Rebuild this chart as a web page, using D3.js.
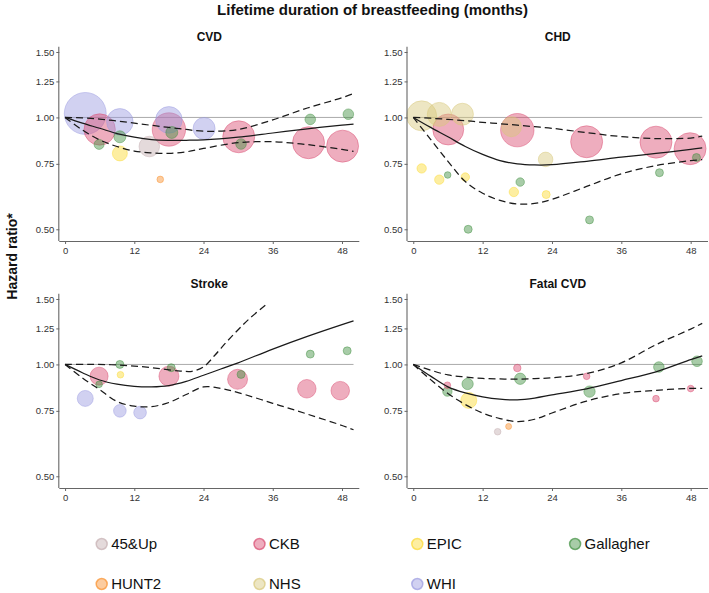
<!DOCTYPE html>
<html><head><meta charset="utf-8">
<script src="https://cdn.jsdelivr.net/npm/d3@7"></script>
<style>
html,body{margin:0;padding:0;background:#fff;}
svg{display:block;font-family:"Liberation Sans",Arial,sans-serif;}
</style></head>
<body>
<svg id="chart" width="709" height="593"></svg>
<script>
// ---------------- DATA ----------------
const studies = ["45&Up", "CKB", "EPIC", "Gallagher", "HUNT2", "NHS", "WHI"];
const studyColors = ["#c4aeb0", "#d94a6f", "#fbd92f", "#3e8e3e", "#f98e2a", "#d8c77a", "#9a9ae0"];
const panelTitles = ["CVD", "CHD", "Stroke", "Fatal CVD"];
const xTicks = [0, 12, 24, 36, 48];
const yTicks = [0.50, 0.75, 1.00, 1.25, 1.50];

// bubbles: [study, months, hazard ratio, weight]
const cvdPoints = [
  ["WHI", 3.5, 1.025, 44], ["WHI", 9.5, 0.973, 17.7], ["WHI", 18, 0.985, 17.7], ["WHI", 24.1, 0.934, 12.1],
  ["CKB", 6, 0.928, 24.6], ["CKB", 18, 0.928, 27.9], ["CKB", 30.1, 0.887, 25.6], ["CKB", 42.2, 0.855, 25.6], ["CKB", 48.1, 0.837, 25.6],
  ["45&Up", 14.6, 0.835, 10.6],
  ["Gallagher", 5.9, 0.846, 2.5], ["Gallagher", 9.5, 0.887, 3.6], ["Gallagher", 18.5, 0.911, 3.6], ["Gallagher", 30.5, 0.848, 2.8], ["Gallagher", 42.5, 0.988, 2.8], ["Gallagher", 49.1, 1.02, 2.8],
  ["EPIC", 9.5, 0.80, 5.6], ["HUNT2", 16.5, 0.681, 1.1]
];
const chdPoints = [
  ["NHS", 1.45, 1.01, 22.5], ["NHS", 4.5, 1.019, 14.4], ["NHS", 8.5, 1.02, 12.1], ["NHS", 17, 0.944, 10], ["NHS", 22.9, 0.771, 5.3],
  ["CKB", 6.05, 0.928, 24], ["CKB", 18, 0.924, 27.9], ["CKB", 30, 0.86, 25.6], ["CKB", 42, 0.858, 25.6], ["CKB", 47.9, 0.824, 25.6],
  ["EPIC", 1.45, 0.729, 2.2], ["EPIC", 4.5, 0.68, 2.2], ["EPIC", 9, 0.691, 1.8], ["EPIC", 17.4, 0.63, 2.2], ["EPIC", 23, 0.62, 1.6],
  ["Gallagher", 5.95, 0.70, 1.1], ["Gallagher", 9.5, 0.50, 1.6], ["Gallagher", 18.5, 0.67, 1.8], ["Gallagher", 30.5, 0.53, 1.6], ["Gallagher", 42.6, 0.71, 1.6], ["Gallagher", 49, 0.78, 1.6]
];
const strokePoints = [
  ["WHI", 3.5, 0.81, 6.4], ["WHI", 9.5, 0.75, 4], ["WHI", 13, 0.742, 4],
  ["CKB", 5.9, 0.93, 8.1], ["CKB", 18, 0.93, 10], ["CKB", 29.9, 0.912, 10], ["CKB", 41.9, 0.86, 8.6], ["CKB", 47.7, 0.85, 8.6],
  ["EPIC", 9.6, 0.938, 1.1],
  ["Gallagher", 5.9, 0.884, 1.1], ["Gallagher", 9.5, 1.0, 1.6], ["Gallagher", 18.4, 0.98, 1.6], ["Gallagher", 30.5, 0.94, 1.6], ["Gallagher", 42.5, 1.066, 1.6], ["Gallagher", 48.9, 1.088, 1.6]
];
const fatalPoints = [
  ["CKB", 5.9, 0.879, 1.1], ["CKB", 18, 0.978, 1.4], ["CKB", 30, 0.929, 1.1], ["CKB", 42, 0.809, 1.1], ["CKB", 48, 0.861, 1.1],
  ["Gallagher", 5.9, 0.845, 2.2], ["Gallagher", 9.4, 0.886, 3.2], ["Gallagher", 18.5, 0.915, 3.2], ["Gallagher", 30.5, 0.845, 3.2], ["Gallagher", 42.5, 0.984, 2.8], ["Gallagher", 49.1, 1.02, 2.8],
  ["EPIC", 9.6, 0.80, 6.4], ["45&Up", 14.6, 0.659, 1.1], ["HUNT2", 16.5, 0.681, 0.9]
];

// fitted curves (months, estimate, lower and upper confidence limits)
const fitMonths = [0, 3, 6, 9, 12, 15, 18, 21, 24, 30, 36, 42, 48, 50];
const cvdFit   = [1, 0.965, 0.935, 0.905, 0.885, 0.872, 0.868, 0.868, 0.870, 0.885, 0.908, 0.932, 0.953, 0.960];
const cvdLower = [1, 0.925, 0.870, 0.835, 0.812, 0.803, 0.800, 0.808, 0.825, 0.855, 0.860, 0.845, 0.820, 0.810];
const cvdUpper = [1, 0.997, 0.990, 0.978, 0.965, 0.952, 0.940, 0.928, 0.918, 0.928, 0.985, 1.060, 1.130, 1.160];

const chdFit   = [1, 0.940, 0.887, 0.835, 0.795, 0.765, 0.750, 0.745, 0.746, 0.762, 0.782, 0.800, 0.820, 0.828];
const chdLower = [1, 0.873, 0.762, 0.672, 0.625, 0.598, 0.585, 0.587, 0.602, 0.652, 0.705, 0.742, 0.765, 0.770];
const chdUpper = [1, 0.995, 0.988, 0.980, 0.970, 0.962, 0.953, 0.944, 0.935, 0.910, 0.888, 0.877, 0.880, 0.890];

const strokeMonths = [0, 3, 6, 9, 12, 15, 18, 21, 24, 27, 30, 36, 42, 48, 50];
const strokeFit    = [1, 0.950, 0.908, 0.885, 0.873, 0.870, 0.877, 0.900, 0.935, 0.972, 1.010, 1.100, 1.190, 1.280, 1.310];
const strokeLower  = [1, 0.920, 0.855, 0.795, 0.772, 0.770, 0.790, 0.830, 0.870, 0.862, 0.840, 0.786, 0.735, 0.685, 0.667];
const strokeUpperMonths = [0, 4, 8, 12, 16, 20, 22, 24, 26, 28, 30, 32, 35];
const strokeUpper  = [1, 1.0, 0.998, 0.990, 0.976, 0.960, 0.958, 0.985, 1.060, 1.150, 1.240, 1.330, 1.455];

const fatalFit   = [1, 0.930, 0.870, 0.838, 0.818, 0.806, 0.803, 0.812, 0.828, 0.860, 0.905, 0.955, 1.030, 1.055];
const fatalLower = [1, 0.910, 0.835, 0.780, 0.740, 0.715, 0.702, 0.712, 0.740, 0.797, 0.835, 0.852, 0.862, 0.862];
const fatalUpper = [1, 0.965, 0.937, 0.925, 0.917, 0.914, 0.913, 0.916, 0.921, 0.945, 1.010, 1.130, 1.245, 1.290];

// ---------------- BUILD ----------------
const panelsData = [
  {title: panelTitles[0], points: cvdPoints,
   fit: [fitMonths, cvdFit], lower: [fitMonths, cvdLower], upper: [fitMonths, cvdUpper]},
  {title: panelTitles[1], points: chdPoints,
   fit: [fitMonths, chdFit], lower: [fitMonths, chdLower], upper: [fitMonths, chdUpper]},
  {title: panelTitles[2], points: strokePoints,
   fit: [strokeMonths, strokeFit], lower: [strokeMonths, strokeLower], upper: [strokeUpperMonths, strokeUpper]},
  {title: panelTitles[3], points: fatalPoints,
   fit: [fitMonths, fatalFit], lower: [fitMonths, fatalLower], upper: [fitMonths, fatalUpper]}
];

// layout
const layout = [
  {x0: 59.3, x1: 359.3, yTop: 46.7, yBot: 241},
  {x0: 407.5, x1: 708, yTop: 46.7, yBot: 241},
  {x0: 59.3, x1: 359.3, yTop: 293.7, yBot: 488},
  {x0: 407.5, x1: 708, yTop: 293.7, yBot: 488}
];

const colorOf = d3.scaleOrdinal().domain(studies).range(studyColors);
const rScale = d3.scaleSqrt().domain([0, 100]).range([0, 31.6]);

const svg = d3.select("#chart");

svg.append("text").attr("x", 372.5).attr("y", 15).attr("text-anchor", "middle")
  .attr("font-size", 15).attr("font-weight", "bold").attr("fill", "#111")
  .text("Lifetime duration of breastfeeding (months)");

svg.append("text").attr("transform", "translate(16.5,256.5) rotate(-90)")
  .attr("text-anchor", "middle").attr("font-size", 14).attr("font-weight", "bold").attr("fill", "#111")
  .text("Hazard ratio*");

panelsData.forEach((p, i) => {
  const L = layout[i];
  const x = d3.scaleLinear().domain([-1, 51]).range([L.x0, L.x1]);
  const y = d3.scaleLog().domain([0.465, 1.55]).range([L.yBot, L.yTop]);
  const g = svg.append("g");

  g.append("text").attr("x", (L.x0 + L.x1) / 2).attr("y", L.yTop - 5.5)
    .attr("text-anchor", "middle").attr("font-size", 12).attr("font-weight", "bold").attr("fill", "#111")
    .text(p.title);

  // reference line
  g.append("line").attr("x1", x(0)).attr("x2", x(50)).attr("y1", y(1)).attr("y2", y(1))
    .attr("stroke", "#aaa").attr("stroke-width", 1);

  // bubbles
  const pts = p.points.slice().sort((a, b) => b[3] - a[3]);
  g.selectAll("circle.b").data(pts).enter().append("circle")
    .attr("class", "b")
    .attr("cx", d => x(d[1])).attr("cy", d => y(d[2])).attr("r", d => rScale(d[3]))
    .attr("fill", d => colorOf(d[0])).attr("fill-opacity", 0.45)
    .attr("stroke", d => colorOf(d[0])).attr("stroke-opacity", 0.45).attr("stroke-width", 1);

  // axes
  const xAxis = d3.axisBottom(x).tickValues(xTicks).tickSize(3).tickPadding(3).tickFormat(d3.format("d"));
  const yAxis = d3.axisLeft(y).tickValues(yTicks).tickSize(3).tickPadding(2).tickFormat(d3.format(".2f"));
  const gx = g.append("g").attr("transform", `translate(0,${L.yBot})`).call(xAxis);
  const gy = g.append("g").attr("transform", `translate(${L.x0},0)`).call(yAxis);
  [gx, gy].forEach(a => {
    a.select(".domain").attr("stroke", "#666").attr("stroke-width", 1.1);
    a.selectAll(".tick line").attr("stroke", "#666");
    a.selectAll(".tick text").attr("fill", "#333").attr("font-size", 9.5)
      .attr("font-family", "'Liberation Sans',Arial,sans-serif");
  });
  gx.select(".domain").attr("d", `M${L.x0},0.5H${L.x1}`);
  gy.select(".domain").attr("d", `M-0.5,${L.yBot}V${L.yTop}`);

  // curves
  const line = d3.line().x(d => x(d[0])).y(d => y(d[1])).curve(d3.curveCatmullRom.alpha(0.5));
  const toPairs = arr => arr[0].map((m, k) => [m, arr[1][k]]);
  [["lower", "7,4"], ["upper", "7,4"], ["fit", null]].forEach(([key, dash]) => {
    const path = g.append("path").datum(toPairs(p[key])).attr("d", line)
      .attr("fill", "none").attr("stroke", "#1a1a1a").attr("stroke-width", 1.25);
    if (dash) path.attr("stroke-dasharray", dash);
  });
});

// legend
const legX = [101.7, 259.5, 417.3, 575.1];
const legY = [544, 584];
const leg = svg.append("g");
studies.forEach((s, i) => {
  const cx = legX[i % 4], cy = legY[Math.floor(i / 4)];
  leg.append("circle").attr("cx", cx).attr("cy", cy).attr("r", 5.5)
    .attr("fill", colorOf(s)).attr("fill-opacity", 0.45)
    .attr("stroke", colorOf(s)).attr("stroke-opacity", 0.7).attr("stroke-width", 1.5);
  leg.append("text").attr("x", cx + 9.5).attr("y", cy + 5.3)
    .attr("font-size", 15).attr("fill", "#111").text(s);
});
</script>
</body></html>
